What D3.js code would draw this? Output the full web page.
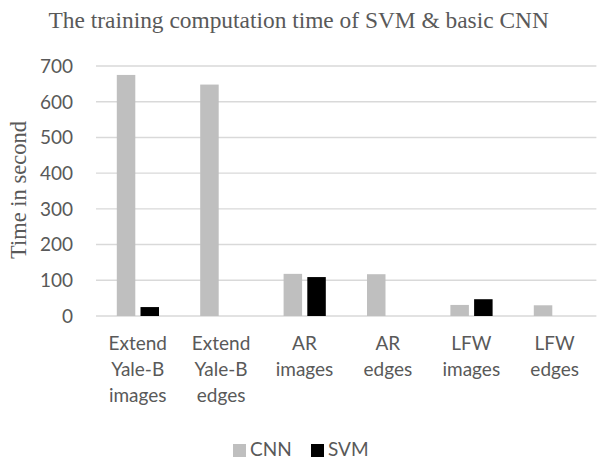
<!DOCTYPE html>
<html>
<head>
<meta charset="utf-8">
<script src="https://cdn.jsdelivr.net/npm/d3@7"></script>
<style>
  body { margin: 0; background: #fff; }
  text { fill: #595959; }
</style>
</head>
<body>
<div id="chart"></div>
<script>
var w = 597;
var h = 461;

// data
var categories = [
  ["Extend", "Yale-B", "images"],
  ["Extend", "Yale-B", "edges"],
  ["AR", "images"],
  ["AR", "edges"],
  ["LFW", "images"],
  ["LFW", "edges"]
];
var seriesNames = ["CNN", "SVM"];
var cnnValues = [675, 648, 118, 117, 31, 30];
var svmValues = [25, null, 109, null, 47, null];
var yTicks = [0, 100, 200, 300, 400, 500, 600, 700];

var colors = { "CNN": "#bfbfbf", "SVM": "#000000" };

var svg = d3.select("#chart")
  .append("svg")
  .attr("width", w)
  .attr("height", h);

var plotLeft = 96, plotRight = 596.4, plotTop = 66, plotBottom = 316;

var x = d3.scaleBand()
  .domain(d3.range(categories.length))
  .range([plotLeft, plotRight]);

var xSub = d3.scaleBand()
  .domain(seriesNames)
  .range([20.8, 63])
  .paddingInner(0.22);

var y = d3.scaleLinear()
  .domain([0, 700])
  .range([plotBottom, plotTop]);

// gridlines
svg.selectAll("line.grid")
  .data(yTicks)
  .enter()
  .append("line")
  .attr("class", "grid")
  .attr("x1", plotLeft)
  .attr("x2", plotRight)
  .attr("y1", function(d) { return y(d); })
  .attr("y2", function(d) { return y(d); })
  .style("stroke", "#d9d9d9")
  .style("stroke-width", 1.4);

// y tick labels
svg.selectAll("text.ytick")
  .data(yTicks)
  .enter()
  .append("text")
  .attr("class", "ytick")
  .attr("x", 73)
  .attr("y", function(d) { return y(d); })
  .attr("dy", "0.36em")
  .attr("text-anchor", "end")
  .style("font-family", "Lato, 'Open Sans', sans-serif")
  .style("font-size", "19px")
  .text(function(d) { return d; });

// bars
var rows = [];
categories.forEach(function(c, i) {
  rows.push({ i: i, s: "CNN", v: cnnValues[i] });
  if (svmValues[i] != null) rows.push({ i: i, s: "SVM", v: svmValues[i] });
});

svg.selectAll("rect.bar")
  .data(rows)
  .enter()
  .append("rect")
  .attr("class", "bar")
  .attr("x", function(d) { return x(d.i) + xSub(d.s); })
  .attr("width", xSub.bandwidth())
  .attr("y", function(d) { return y(d.v); })
  .attr("height", function(d) { return y(0) - y(d.v); })
  .attr("fill", function(d) { return colors[d.s]; });

// x labels, one tspan per line
var xl = svg.selectAll("text.xlab")
  .data(categories)
  .enter()
  .append("text")
  .attr("class", "xlab")
  .attr("text-anchor", "middle")
  .style("font-family", "Lato, 'Open Sans', sans-serif")
  .style("font-size", "19px");

xl.selectAll("tspan")
  .data(function(d, i) { return d.map(function(t) { return { t: t, i: i }; }); })
  .enter()
  .append("tspan")
  .attr("x", function(d) { return x(d.i) + x.bandwidth() / 2; })
  .attr("y", function(d, j) { return 350 + j * 26; })
  .text(function(d) { return d.t; });

// title
svg.append("text")
  .attr("x", 298.7)
  .attr("y", 28)
  .attr("text-anchor", "middle")
  .style("font-family", "'Liberation Serif', 'Times New Roman', serif")
  .style("font-size", "23.4px")
  .text("The training computation time of SVM & basic CNN");

// y axis title
svg.append("text")
  .attr("transform", "translate(26,190) rotate(-90)")
  .attr("text-anchor", "middle")
  .style("font-family", "'Liberation Serif', 'Times New Roman', serif")
  .style("font-size", "22.5px")
  .text("Time in second");

// legend
var legendX = [233, 311];
var lg = svg.selectAll("g.legend")
  .data(seriesNames)
  .enter()
  .append("g")
  .attr("class", "legend")
  .attr("transform", function(d, i) { return "translate(" + legendX[i] + ",0)"; });

lg.append("rect")
  .attr("x", 0)
  .attr("y", 444)
  .attr("width", 13)
  .attr("height", 13)
  .attr("fill", function(d) { return colors[d]; });

lg.append("text")
  .attr("x", 17)
  .attr("y", 456)
  .style("font-family", "Lato, 'Open Sans', sans-serif")
  .style("font-size", "19px")
  .text(function(d) { return d; });
</script>
</body>
</html>
